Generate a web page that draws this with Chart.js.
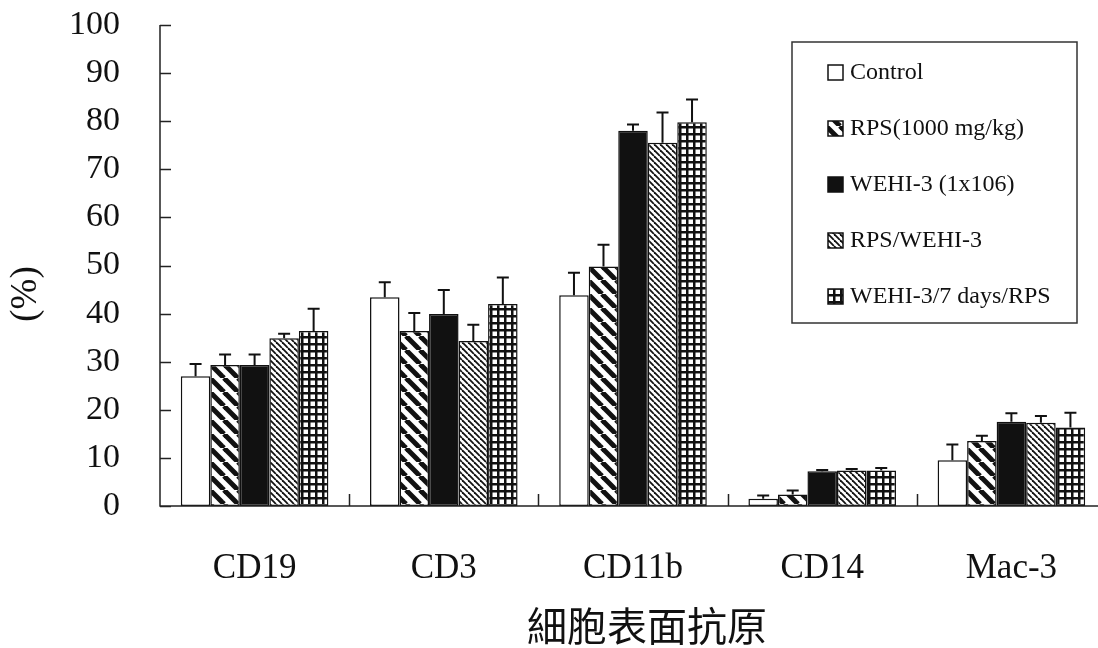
<!DOCTYPE html>
<html>
<head>
<meta charset="utf-8">
<script src="https://cdn.jsdelivr.net/npm/chart.js@4.4.1/dist/chart.umd.min.js"></script>
<style>
  html, body { margin: 0; padding: 0; background: #fff; overflow: hidden; }
  #wrap { width: 1098px; height: 648px; overflow: hidden; position: relative; }
  canvas { display: block; }
</style>
</head>
<body>
<div id="wrap"><canvas id="c" width="1106" height="648"></canvas></div>
<script>
// Cell-surface markers on the x axis
const categories = ['CD19', 'CD3', 'CD11b', 'CD14', 'Mac-3'];
const yTicks = [0, 10, 20, 30, 40, 50, 60, 70, 80, 90, 100];

// Group labels
const seriesNames = ['Control', 'RPS(1000 mg/kg)', 'WEHI-3 (1x106)', 'RPS/WEHI-3', 'WEHI-3/7 days/RPS'];
const xTitle = '細胞表面抗原';
const yTitle = '(%)';

// Mean percentages and upper error (SD) per group
const control        = [27.0, 43.4, 43.8, 1.5,  9.5];
const controlErr     = [2.5,  3.1,  4.7,  0.7,  3.3];
const rps            = [29.3, 36.4, 49.8, 2.4, 13.5];
const rpsErr         = [2.2,  3.7,  4.5,  0.8,  1.1];
const wehi           = [29.3, 39.9, 78.0, 7.2, 17.5];
const wehiErr        = [2.2,  5.0,  1.3,  0.3,  1.8];
const rpsWehi        = [34.9, 34.3, 75.5, 7.4, 17.3];
const rpsWehiErr     = [0.9,  3.4,  6.3,  0.3,  1.4];
const wehiThenRps    = [36.4, 42.0, 79.8, 7.4, 16.3];
const wehiThenRpsErr = [4.6,  5.5,  4.7,  0.5,  3.1];

const INK = '#111';
const SERIF = '"Liberation Serif", "Times New Roman", serif';

// ---- fill patterns ----
function diagPattern(size, lw) {
  const c = document.createElement('canvas');
  c.width = size; c.height = size;
  const g = c.getContext('2d');
  g.fillStyle = '#fff'; g.fillRect(0, 0, size, size);
  g.strokeStyle = INK; g.lineWidth = lw;
  for (const o of [-size, 0, size]) {
    g.beginPath(); g.moveTo(o, 0); g.lineTo(o + size, size); g.stroke();
  }
  return g.createPattern(c, 'repeat');
}
function gridPattern(size, lw) {
  const c = document.createElement('canvas');
  c.width = size; c.height = size;
  const g = c.getContext('2d');
  g.fillStyle = '#fff'; g.fillRect(0, 0, size, size);
  g.fillStyle = INK;
  g.fillRect(0, 0, size, lw);
  g.fillRect(0, 0, lw, size);
  return g.createPattern(c, 'repeat');
}

const fills = [
  '#fff',
  diagPattern(14, 5),
  INK,
  diagPattern(6, 1.8),
  gridPattern(7, 2.5)
];

const values = [control, rps, wehi, rpsWehi, wehiThenRps];
const errors = [controlErr, rpsErr, wehiErr, rpsWehiErr, wehiThenRpsErr];

const datasets = values.map((v, i) => ({
  label: seriesNames[i],
  data: v,
  errors: errors[i],
  backgroundColor: fills[i],
  borderColor: INK,
  borderWidth: 1.5,
  borderSkipped: false,
  categoryPercentage: 0.78,
  barPercentage: 1.0
}));

// ---- upward error bars with caps ----
const errorBars = {
  id: 'errorBars',
  afterDatasetsDraw(chart) {
    const ctx = chart.ctx;
    const ys = chart.scales.y;
    ctx.save();
    ctx.strokeStyle = INK;
    ctx.lineWidth = 2;
    chart.data.datasets.forEach((ds, i) => {
      const meta = chart.getDatasetMeta(i);
      meta.data.forEach((bar, j) => {
        const top = ys.getPixelForValue(ds.data[j] + ds.errors[j]);
        const x = bar.x;
        ctx.beginPath();
        ctx.moveTo(x, bar.y);
        ctx.lineTo(x, top);
        ctx.moveTo(x - 6, top);
        ctx.lineTo(x + 6, top);
        ctx.stroke();
      });
    });
    ctx.restore();
  }
};

// ---- axis lines with inward tick marks, and axis titles ----
const axisFrame = {
  id: 'axisFrame',
  afterDatasetsDraw(chart) {
    const ctx = chart.ctx;
    const { left, right, top, bottom } = chart.chartArea;
    const ys = chart.scales.y;
    ctx.save();
    ctx.strokeStyle = '#222';
    ctx.lineWidth = 1.5;
    ctx.beginPath();
    ctx.moveTo(left, top);
    ctx.lineTo(left, bottom);
    ctx.lineTo(chart.width, bottom);
    yTicks.forEach(t => {
      const y = Math.round(ys.getPixelForValue(t)) + 0.5;
      ctx.moveTo(left, y);
      ctx.lineTo(left + 11, y);
    });
    const w = (right - left) / categories.length;
    for (let k = 1; k < categories.length; k++) {
      const x = Math.round(left + k * w) + 0.5;
      ctx.moveTo(x, bottom);
      ctx.lineTo(x, bottom - 12);
    }
    ctx.stroke();

    ctx.fillStyle = INK;
    ctx.textAlign = 'center';
    ctx.textBaseline = 'middle';
    ctx.font = '40px "Noto Sans CJK TC", "Noto Sans CJK SC", sans-serif';
    ctx.fillText(xTitle, 647, 626);
    ctx.translate(26, 294);
    ctx.rotate(-Math.PI / 2);
    ctx.font = '37px ' + SERIF;
    ctx.fillText(yTitle, 0, 0);
    ctx.restore();
  }
};

// ---- boxed legend inside the plot ----
const boxLegend = {
  id: 'boxLegend',
  afterDraw(chart) {
    const ctx = chart.ctx;
    ctx.save();
    ctx.strokeStyle = '#333';
    ctx.lineWidth = 1.5;
    ctx.strokeRect(792, 42, 285, 281);
    ctx.font = '24px ' + SERIF;
    ctx.textBaseline = 'middle';
    chart.data.datasets.forEach((ds, i) => {
      const cy = 73 + i * 56;
      ctx.fillStyle = ds.backgroundColor;
      ctx.fillRect(828, cy - 8, 15, 15);
      ctx.strokeStyle = INK;
      ctx.lineWidth = 1.5;
      ctx.strokeRect(828, cy - 8, 15, 15);
      ctx.fillStyle = INK;
      ctx.fillText(ds.label, 850, cy);
    });
    ctx.restore();
  }
};

new Chart(document.getElementById('c'), {
  type: 'bar',
  data: { labels: categories, datasets },
  options: {
    responsive: false,
    animation: false,
    devicePixelRatio: 1,
    layout: { padding: { top: 25, right: 0, bottom: 0, left: 0 } },
    plugins: {
      legend: { display: false },
      tooltip: { enabled: false }
    },
    scales: {
      x: {
        type: 'category',
        offset: true,
        grid: { display: false, drawTicks: false },
        border: { display: false },
        ticks: {
          color: INK,
          padding: 42,
          maxRotation: 0,
          font: { family: SERIF, size: 35 }
        },
        afterFit(scale) { scale.height = 142; }
      },
      y: {
        min: 0,
        max: 100,
        grid: { display: false, drawTicks: false },
        border: { display: false },
        afterBuildTicks(scale) { scale.ticks = yTicks.map(v => ({ value: v })); },
        ticks: {
          color: INK,
          padding: 40,
          font: { family: SERIF, size: 34 }
        },
        afterFit(scale) {
          scale.width = 160;
          scale.paddingTop = 0;
          scale.paddingBottom = 0;
        }
      }
    }
  },
  plugins: [errorBars, axisFrame, boxLegend]
});
</script>
</body>
</html>
